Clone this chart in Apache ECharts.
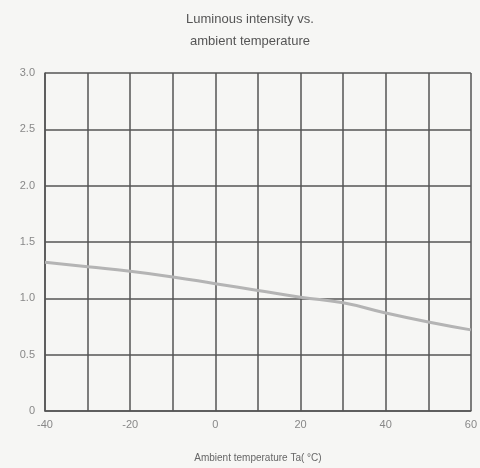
<!DOCTYPE html>
<html>
<head>
<meta charset="utf-8">
<script src="https://cdn.jsdelivr.net/npm/echarts@6/dist/echarts.min.js"></script>
<style>
  html, body { margin: 0; padding: 0; background: #f6f6f4; }
  #chart { width: 480px; height: 468px; }
</style>
</head>
<body>
<div id="chart"></div>
<script>
// data
const temps = [-40, -30, -20, -10, 0, 10, 20, 30, 40, 50, 60]
const intensity = [1.32, 1.28, 1.24, 1.19, 1.13, 1.07, 1.01, 0.96, 0.87, 0.79, 0.72]
const yTicks = ['0', '0.5', '1.0', '1.5', '2.0', '2.5', '3.0']

const chart = echarts.init(document.getElementById('chart'))
const labelFont = 'Liberation Sans'

chart.setOption({
  backgroundColor: '#f6f6f4',
  animation: false,
  title: {
    text: 'Luminous intensity vs.\nambient temperature',
    left: 245,
    top: 3,
    textAlign: 'center',
    textStyle: {
      fontFamily: labelFont,
      fontSize: 13,
      fontWeight: 'normal',
      color: '#555',
      lineHeight: 22
    }
  },
  grid: {
    left: 45,
    right: 8,
    top: 73,
    bottom: 56
  },
  xAxis: {
    type: 'value',
    min: -40,
    max: 60,
    interval: 10,
    name: 'Ambient temperature Ta( °C)',
    nameLocation: 'middle',
    nameGap: 42,
    nameTextStyle: { fontFamily: labelFont, fontSize: 10, color: '#666' },
    axisLine: { show: true, onZero: false, lineStyle: { color: '#555', width: 1.5 } },
    axisTick: { show: false },
    splitLine: { show: true, lineStyle: { color: '#555', width: 1.5 } },
    axisLabel: {
      fontFamily: labelFont,
      fontSize: 11,
      color: '#888',
      margin: 8,
      formatter: v => (v % 20 === 0 ? String(v) : '')
    }
  },
  yAxis: {
    type: 'value',
    min: 0,
    max: 3,
    interval: 0.5,
    axisLine: { show: true, onZero: false, lineStyle: { color: '#555', width: 1.5 } },
    axisTick: { show: false },
    splitLine: { show: true, lineStyle: { color: '#555', width: 1.5 } },
    axisLabel: {
      fontFamily: labelFont,
      fontSize: 11,
      color: '#888',
      margin: 10,
      formatter: v => yTicks[Math.round(v * 2)]
    }
  },
  series: [
    {
      type: 'line',
      smooth: true,
      showSymbol: false,
      data: temps.map((t, i) => [t, intensity[i]]),
      lineStyle: { color: '#b4b4b4', width: 3 }
    }
  ]
})
</script>
</body>
</html>
